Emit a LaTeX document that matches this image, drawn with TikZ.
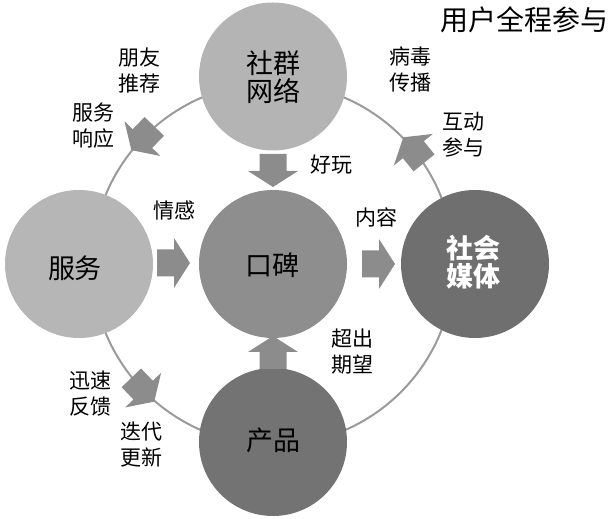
\documentclass[tikz,border=0pt]{standalone}
\usepackage{fontspec}
\newfontfamily\cjk{Noto Sans CJK SC}
\definecolor{ringgray}{HTML}{9A9A9A}
\definecolor{arrowgray}{HTML}{8C8C8C}
\definecolor{netgray}{HTML}{B4B4B4}
\definecolor{svcgray}{HTML}{B6B6B6}
\definecolor{kbgray}{HTML}{8E8E8E}
\definecolor{smgray}{HTML}{6F6F6F}
\definecolor{pdgray}{HTML}{737373}
\newcommand\blockarr[1]{\fill[blk,#1] (-16.5,-13.5) -- (0.5,-13.5) -- (0.5,-25) -- (16.5,0) -- (0.5,25) -- (0.5,13.5) -- (-16.5,13.5) -- cycle;}
\begin{document}
\begin{tikzpicture}[x=1pt,y=1pt,
  ring/.style={draw=ringgray, line width=2pt},
  bubble/.style={circle, inner sep=0pt, minimum size=148pt, draw=none, align=center, text=black,
    font=\cjk\fontsize{27}{29}\selectfont},
  lbl/.style={inner sep=0pt, align=center, text=black, font=\cjk\fontsize{21}{26}\selectfont},
  blk/.style={fill=arrowgray, draw=none}]
\useasboundingbox (0,0) rectangle (611,519);
% ring
\coordinate (rc) at (273,255);
\draw[ring] (rc) circle[radius=181pt];
% circles
\node[bubble, fill=netgray] (net) at (273,442.5) {};
\node[bubble, fill=svcgray] (svc) at (79,255) {};
\node[bubble, fill=kbgray] (kb) at (273,255) {};
\node[bubble, fill=smgray] (sm) at (475,255) {};
\node[bubble, fill=pdgray] (pd) at (273,77) {};
% circle texts
\node[lbl, font=\cjk\fontsize{27}{28}\selectfont] (tnet) at (273,442) {社群\\网络};
\node[lbl, font=\cjk\fontsize{27}{28}\selectfont] (tsvc) at (75,251) {服务};
\node[lbl, font=\cjk\fontsize{27}{28}\selectfont] (tkb) at (272,254) {口碑};
\node[lbl, text=white, font=\cjk\bfseries\fontsize{27}{28}\selectfont] (tsm) at (473,257) {社会\\媒体};
\node[lbl, font=\cjk\fontsize{27}{28}\selectfont] (tpd) at (273,79) {产品};
% straight arrows
\blockarr{shift={(273,348.5)}, rotate=-90}
\blockarr{shift={(173.5,256)}, rotate=0}
\blockarr{shift={(378.5,255)}, rotate=0}
\blockarr{shift={(273,166.5)}, rotate=90}
% ring arrows
\blockarr{shift={(rc)}, shift={(136:181pt)}, rotate=226}
\blockarr{shift={(rc)}, shift={(39:181pt)}, rotate=129}
\blockarr{shift={(rc)}, shift={(224:181pt)}, rotate=314}
% labels
\node[lbl, font=\cjk\fontsize{28}{30}\selectfont] (title) at (524.5,499) {用户全程参与};
\node[lbl] (l1) at (139,448.5) {朋友\\推荐};
\node[lbl] (l2) at (93,393) {服务\\响应};
\node[lbl] (l3) at (410,449.5) {病毒\\传播};
\node[lbl] (l4) at (463,384.5) {互动\\参与};
\node[lbl] (l5) at (331,354) {好玩};
\node[lbl] (l6) at (174,309) {情感};
\node[lbl] (l7) at (376,302) {内容};
\node[lbl] (l8) at (352,167.5) {超出\\期望};
\node[lbl] (l9) at (90,125.5) {迅速\\反馈};
\node[lbl] (l10) at (141,74.5) {迭代\\更新};
\end{tikzpicture}
\end{document}
